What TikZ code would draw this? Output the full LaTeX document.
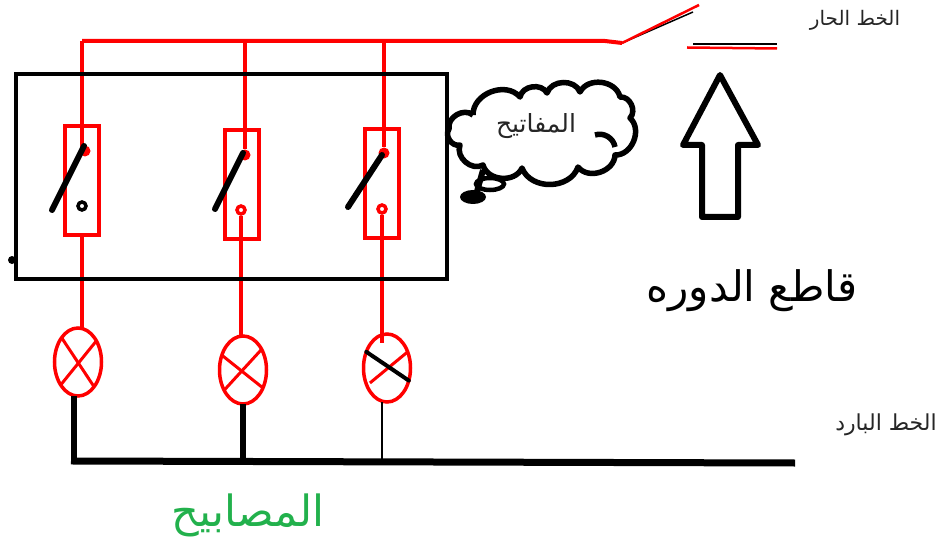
\documentclass[tikz,border=0pt]{standalone}
\usepackage{fontspec}
\usepackage{tikz}
\usetikzlibrary{positioning, shapes.geometric}
\TeXXeTstate=1
\newfontfamily\arabicfont[Script=Arabic]{DejaVu Sans}
\newcommand{\artext}[1]{{\arabicfont\beginR #1\endR}}
\definecolor{lampgreen}{RGB}{34,177,76}
\tikzset{
  hotwire/.style    = {draw=red, line width=4pt},
  coldwire/.style   = {draw=black, line width=6pt},
  lever/.style      = {draw=black, line width=6pt, line cap=round},
  switchbox/.style  = {draw=red, line width=4pt, rectangle, minimum width=34pt, minimum height=109pt, inner sep=0pt, outer sep=0pt},
  lamp/.style       = {draw=red, line width=3.5pt, ellipse, minimum width=47pt, minimum height=68pt, inner sep=0pt, outer sep=0pt},
  reddot/.style     = {fill=red, circle, minimum size=11pt, inner sep=0pt},
  ringdot/.style    = {draw=red, fill=white, line width=3.5pt, circle, minimum size=8pt, inner sep=0pt},
  arlabel/.style    = {inner sep=0pt, text=black!85},
}

\begin{document}
\begin{tikzpicture}[x=1pt, y=1pt]
\useasboundingbox (0,0) rectangle (942,547);

\coordinate (hot1) at (82,506);
\coordinate (hotend) at (605,506);
\coordinate (hinge) at (622,504);
\coordinate (blade) at (699,542);
\coordinate (bus1) at (74,86);
\coordinate (busend) at (795,84);

\node [switchbox                                ] (sw1) at (82,366.5) {};
\node [switchbox, right=125.5pt of sw1, yshift=-4.5pt] (sw2) {};
\node [switchbox, right=106pt of sw2  , yshift=1.5pt ] (sw3) {};

\node [lamp] (lamp1) at (78,185) {};
\node [lamp] (lamp2) at (243,177) {};
\node [lamp] (lamp3) at (387,179) {};

\node [reddot] (top1) at (85,396) {};
\node [reddot] (top2) at (245,392) {};
\node [reddot] (top3) at (384,394) {};
\node [ringdot, draw=black] (bot1) at (82,341) {};
\node [ringdot] (bot2) at (241,337) {};
\node [ringdot] (bot3) at (382,338) {};

\coordinate (pin1) at (84,401);
\coordinate (arm1) at (52,337);
\coordinate (pin2) at (243,394);
\coordinate (arm2) at (215,338);
\coordinate (pin3) at (382,392);
\coordinate (arm3) at (348,340);

% live side
\path [hotwire] (hot1) edge (hot1 |- top1);
\path [hotwire] (top2 |- hot1) edge (top2);
\path [hotwire] (top3 |- hot1) edge (top3);
\draw [hotwire] (hot1) -- (hotend) -- (hinge);
\draw [black, line width=1.5pt] (hinge) -- (693,535);
\draw [red, line width=2.5pt] (hinge) -- (blade);
\draw [black, line width=2pt] (693,503) -- (777,503);
\draw [red, line width=2.5pt] (687,499.5) -- (777,498.5);

% down to the lamps
\path [hotwire] (sw1.south) edge (sw1.south |- lamp1.north);
\path [hotwire] (bot2) edge (bot2 |- lamp2.north);
\path [hotwire, shorten >=-9pt] (bot3) edge (bot3 |- lamp3.north);

\draw [hotwire, line width=3pt] (lamp1.124) -- (lamp1.-57);
\draw [hotwire, line width=3pt] (lamp1.233) -- (lamp1.49);
\draw [hotwire, line width=3pt] (lamp2.145) -- (lamp2.-42);
\draw [hotwire, line width=3pt] (lamp2.227) -- (lamp2.48);
\draw [hotwire, line width=3pt, shorten <=4pt] (lamp3.221) -- (lamp3.38);
\draw [lever, line width=4pt] (lamp3.142) -- (lamp3.-30);

% cold side
\draw [coldwire, line width=7pt, shorten <=-3pt] (bus1) -- (busend);
\path [coldwire] (lamp1.south -| bus1) edge (bus1);
\path [coldwire] (lamp2.south) edge (lamp2.south |- bus1);
\path [coldwire, line width=1.5pt] (lamp3.south -| bot3) edge (bot3 |- bus1);

\draw [lever] (pin1) -- (arm1);
\draw [lever] (pin2) -- (arm2);
\draw [lever] (pin3) -- (arm3);

\node [draw, line width=4pt, rectangle, minimum width=431pt, minimum height=205pt, inner sep=0pt] (panel) at (231.5,370.5) {};
\node [fill=black, circle, minimum size=8pt, inner sep=0pt] (speck) at (12,287) {};

% cloud
\draw [line width=5.5pt, line join=round, bend left=70, looseness=1.1]
  (473,432) to (520,450) to (547,454) to (580,455) to (620,450) to (630,429)
  to (615,392) to (578,380) to (522,379) to (483,382) to (460,402) to (449,418) to (473,432);
\draw [line width=5.5pt, bend left=50] (595,412) to (615,400);
\draw [line width=6pt] (483,377) -- (476,352);
\draw [line width=4.5pt] (490,363) ellipse [x radius=14pt, y radius=6pt];
\fill (473,350) ellipse [x radius=13pt, y radius=7pt];

% breaker arrow
\draw [line width=6pt, line join=round]
  (720,472) -- (758,402) -- (738,402) -- (738,330) -- (702,330) -- (702,402) -- (683,402) -- cycle;

\node [arlabel, font=\fontsize{20}{24}\selectfont] (hotlabel) at (855,527) {\artext{الخط الحار}};
\node [arlabel, font=\fontsize{22}{26}\selectfont] (coldlabel) at (886,122) {\artext{الخط البارد}};
\node [arlabel, font=\fontsize{25}{30}\selectfont] (cloudlabel) at (536,421) {\artext{المفاتيح}};
\node [arlabel, text=black, font=\fontsize{42}{50}\selectfont] (breakerlabel) at (752,256) {\artext{قاطع الدوره}};
\node [arlabel, text=lampgreen, font=\fontsize{43}{50}\selectfont] (lamplabel) at (248,32) {\artext{المصابيح}};

\end{tikzpicture}
\end{document}
